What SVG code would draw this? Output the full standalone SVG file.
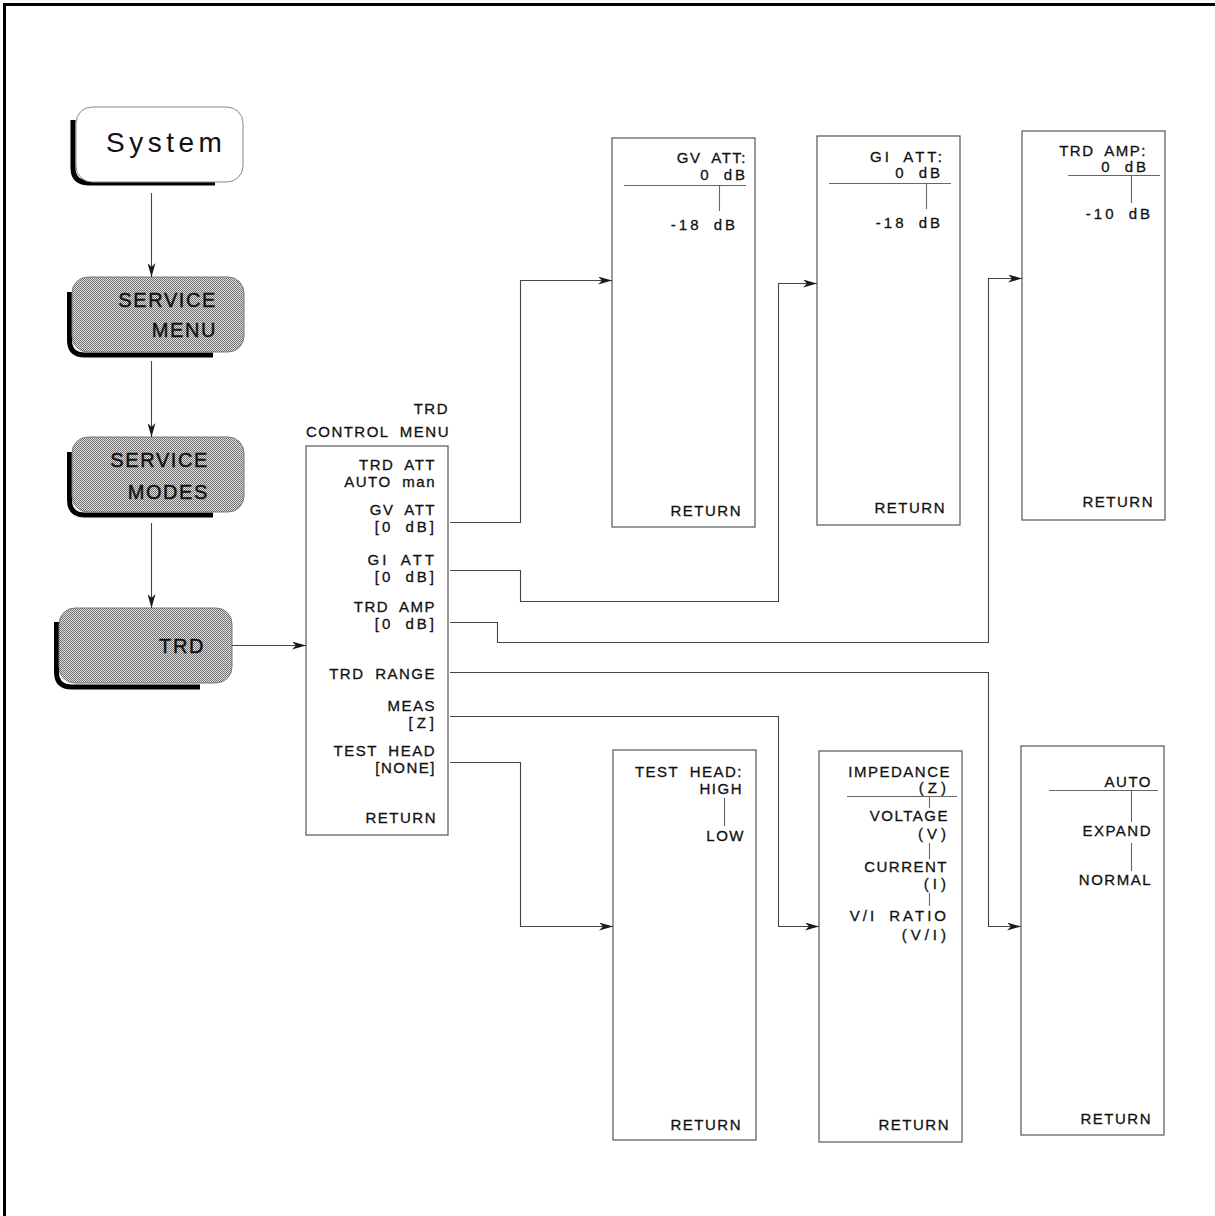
<svg xmlns="http://www.w3.org/2000/svg" width="1215" height="1216" viewBox="0 0 1215 1216">
<defs>
<pattern id="dith" width="2" height="2" patternUnits="userSpaceOnUse">
<rect width="2" height="2" fill="#e0e0e0"/>
<rect x="0" y="0" width="1" height="1" fill="#707070"/>
<rect x="1" y="1" width="1" height="1" fill="#707070"/>
</pattern>
<marker id="ah" markerWidth="14" markerHeight="8" refX="14" refY="4" orient="auto" markerUnits="userSpaceOnUse">
<path d="M0,0 L14,4 L0,8 L4,4 Z" fill="#1a1a1a"/>
</marker>
<style>
.box{fill:#fff;stroke:#555;stroke-width:1.2}
.key{fill:url(#dith);stroke:#777;stroke-width:1}
.wkey{fill:#fff;stroke:#888;stroke-width:1}
.sh{fill:none;stroke:#000;stroke-width:5;stroke-linecap:butt}
.c{fill:none;stroke:#444;stroke-width:1.1}
.a{marker-end:url(#ah)}
.t{fill:none;stroke:#666;stroke-width:1.1}
.m{font-family:"Liberation Sans",Arial,sans-serif;font-size:15px;letter-spacing:1.5px;word-spacing:5px;text-anchor:end;fill:#111;stroke:#111;stroke-width:0.3}
.w{letter-spacing:3px}
.ww{letter-spacing:4px}
.k{font-family:"Liberation Sans",Arial,sans-serif;font-size:20px;letter-spacing:1.6px;text-anchor:end;fill:#111;stroke:#111;stroke-width:0.4}
.sys{font-family:"Liberation Sans",Arial,sans-serif;font-size:28px;letter-spacing:4.5px;fill:#111}
</style>
</defs>
<rect width="1215" height="1216" fill="#fff"/>
<path d="M4.5,1216 V4.5 H1215" fill="none" stroke="#000" stroke-width="3"/>

<g id="key-system">
<path class="sh" d="M73,120 V168 Q73,183 90,183 H215"/>
<rect class="wkey" x="76" y="107" width="167" height="75" rx="16"/>
<text class="sys" x="106" y="152">System</text>
</g>

<g id="key-service-menu">
<path class="sh" d="M69.5,292 V340 Q69.5,355 85,355 H213"/>
<rect class="key" x="72" y="277" width="172" height="75" rx="16"/>
<text class="k" x="217" y="307">SERVICE</text>
<text class="k" x="217" y="337">MENU</text>
</g>

<g id="key-service-modes">
<path class="sh" d="M69.5,452 V500 Q69.5,515 85,515 H213"/>
<rect class="key" x="72" y="437" width="172" height="75" rx="16"/>
<text class="k" x="209" y="467">SERVICE</text>
<text class="k" x="209" y="499">MODES</text>
</g>

<g id="key-trd">
<path class="sh" d="M56.5,622 V672 Q56.5,687 72,687 H200"/>
<rect class="key" x="59" y="608" width="173" height="75" rx="16"/>
<text class="k" x="205" y="653">TRD</text>
</g>

<g id="trd-control-menu">
<text class="m" x="449" y="414">TRD</text>
<text class="m" x="450" y="437">CONTROL MENU</text>
<rect class="box" x="306" y="446" width="142" height="389"/>
<text class="m" x="436" y="470">TRD ATT</text>
<text class="m" x="436" y="487">AUTO man</text>
<text class="m" x="436" y="515">GV ATT</text>
<text class="m w" x="437" y="532">[0 dB]</text>
<text class="m w" x="437" y="565">GI ATT</text>
<text class="m w" x="437" y="582">[0 dB]</text>
<text class="m" x="436" y="612">TRD AMP</text>
<text class="m w" x="437" y="629">[0 dB]</text>
<text class="m" x="436" y="679">TRD RANGE</text>
<text class="m" x="436" y="711">MEAS</text>
<text class="m ww" x="438" y="728">[Z]</text>
<text class="m" x="436" y="756">TEST HEAD</text>
<text class="m" x="436" y="773">[NONE]</text>
<text class="m" x="437" y="823">RETURN</text>
</g>

<g id="gv-att-menu">
<rect class="box" x="612" y="138" width="143" height="389"/>
<text class="m" x="747" y="163">GV ATT:</text>
<text class="m w" x="748" y="180">0 dB</text>
<path class="t" d="M624,185.5 H746 M719.5,185.5 V211"/>
<text class="m w" x="738" y="230">-18 dB</text>
<text class="m" x="742" y="516">RETURN</text>
</g>

<g id="gi-att-menu">
<rect class="box" x="817" y="136" width="143" height="389"/>
<text class="m w" x="945" y="162">GI ATT:</text>
<text class="m w" x="943" y="178">0 dB</text>
<path class="t" d="M829,183.5 H951 M926.5,183.5 V209"/>
<text class="m w" x="943" y="228">-18 dB</text>
<text class="m" x="946" y="513">RETURN</text>
</g>

<g id="trd-amp-menu">
<rect class="box" x="1022" y="131" width="143" height="389"/>
<text class="m" x="1147" y="156">TRD AMP:</text>
<text class="m w" x="1149" y="172">0 dB</text>
<path class="t" d="M1068,175.5 H1160 M1131.5,175.5 V203"/>
<text class="m w" x="1153" y="219">-10 dB</text>
<text class="m" x="1154" y="507">RETURN</text>
</g>

<g id="test-head-menu">
<rect class="box" x="613" y="750" width="143" height="390"/>
<text class="m" x="743" y="777">TEST HEAD:</text>
<text class="m" x="743" y="794">HIGH</text>
<path class="t" d="M724.5,798 V826"/>
<text class="m" x="745" y="841">LOW</text>
<text class="m" x="742" y="1130">RETURN</text>
</g>

<g id="meas-menu">
<rect class="box" x="819" y="751" width="143" height="391"/>
<text class="m" x="951" y="777">IMPEDANCE</text>
<text class="m ww" x="950" y="793">(Z)</text>
<path class="t" d="M847,796.5 H957 M929.5,796.5 V808 M929.5,843 V859 M929.5,893 V906"/>
<text class="m" x="949" y="821">VOLTAGE</text>
<text class="m ww" x="950" y="839">(V)</text>
<text class="m" x="948" y="872">CURRENT</text>
<text class="m ww" x="950" y="889">(I)</text>
<text class="m w" x="949" y="921">V/I RATIO</text>
<text class="m ww" x="950" y="940">(V/I)</text>
<text class="m" x="950" y="1130">RETURN</text>
</g>

<g id="trd-range-menu">
<rect class="box" x="1021" y="746" width="143" height="389"/>
<text class="m" x="1152" y="787">AUTO</text>
<path class="t" d="M1049,790.5 H1158 M1131.5,790.5 V822 M1131.5,843 V871"/>
<text class="m" x="1152" y="836">EXPAND</text>
<text class="m" x="1152" y="885">NORMAL</text>
<text class="m" x="1152" y="1124">RETURN</text>
</g>

<g id="connectors">
<path class="c a" d="M151.5,193 V277"/>
<path class="c a" d="M151.5,361 V437"/>
<path class="c a" d="M151.5,523 V608"/>
<path class="c a" d="M232,645.5 H306"/>
<path class="c a" d="M450,522.5 H520.5 V280.5 H612"/>
<path class="c a" d="M450,570.5 H520.5 V601.5 H778.5 V283.5 H817"/>
<path class="c a" d="M450,622.5 H497.5 V642.5 H988.5 V278.5 H1022"/>
<path class="c a" d="M450,672.5 H988.5 V926.5 H1021"/>
<path class="c a" d="M450,716.5 H778.5 V926.5 H819"/>
<path class="c a" d="M450,762.5 H520.5 V926.5 H613"/>
</g>
</svg>
